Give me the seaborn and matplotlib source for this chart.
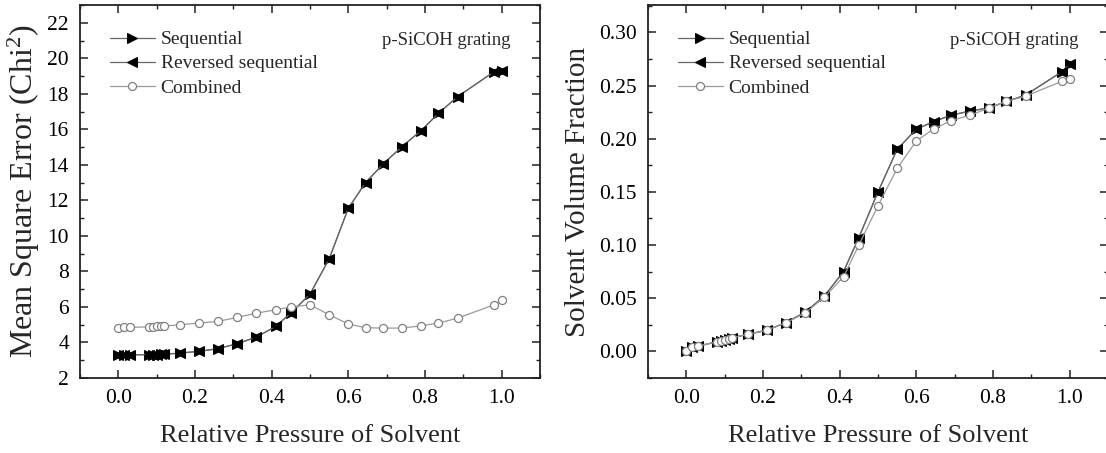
import numpy as np
import pandas as pd
import matplotlib
matplotlib.use("Agg")
import matplotlib.pyplot as plt
from matplotlib.ticker import MultipleLocator
import seaborn as sns

# ---------------- data ----------------
pressure = [0.0, 0.015, 0.03, 0.08, 0.09, 0.10, 0.11, 0.12, 0.16, 0.21, 0.26,
            0.31, 0.36, 0.41, 0.45, 0.50, 0.55, 0.60, 0.645, 0.69, 0.74, 0.79,
            0.835, 0.885, 0.98, 1.0]

mse_sequential = [3.3, 3.3, 3.3, 3.32, 3.32, 3.32, 3.33, 3.34, 3.4, 3.5, 3.65,
                  3.93, 4.3, 4.9, 5.65, 6.72, 8.71, 11.56, 13.0, 14.03, 15.03,
                  15.93, 16.9, 17.84, 19.24, 19.3]
mse_reversed = [3.3, 3.3, 3.3, 3.32, 3.32, 3.32, 3.33, 3.34, 3.4, 3.5, 3.65,
                3.93, 4.3, 4.9, 5.65, 6.72, 8.71, 11.56, 13.0, 14.03, 15.03,
                15.93, 16.9, 17.84, 19.24, 19.3]
mse_combined = [4.81, 4.85, 4.85, 4.88, 4.89, 4.9, 4.91, 4.92, 5.0, 5.09, 5.19,
                5.41, 5.65, 5.84, 6.0, 6.12, 5.56, 5.04, 4.83, 4.81, 4.81, 4.94,
                5.09, 5.37, 6.12, 6.37]

svf_sequential = [0.0, 0.004, 0.005, 0.009, 0.010, 0.011, 0.012, 0.013, 0.016,
                  0.020, 0.027, 0.037, 0.052, 0.075, 0.107, 0.150, 0.190, 0.209,
                  0.216, 0.222, 0.226, 0.229, 0.235, 0.241, 0.263, 0.270]
svf_reversed = [0.0, 0.004, 0.005, 0.009, 0.010, 0.011, 0.012, 0.013, 0.016,
                0.020, 0.027, 0.037, 0.052, 0.075, 0.107, 0.150, 0.190, 0.209,
                0.216, 0.222, 0.226, 0.229, 0.235, 0.241, 0.263, 0.270]
svf_combined = [0.0, 0.004, 0.005, 0.009, 0.010, 0.011, 0.012, 0.013, 0.016,
                0.020, 0.027, 0.036, 0.051, 0.070, 0.100, 0.137, 0.172, 0.198,
                0.209, 0.217, 0.222, 0.229, 0.235, 0.240, 0.254, 0.256]

series_names = ["Sequential", "Reversed sequential", "Combined"]
x_label = "Relative Pressure of Solvent"
left_ylabel = "Mean Square Error (Chi$^{2}$)"
right_ylabel = "Solvent Volume Fraction"
annotation = "p-SiCOH grating"

# ---------------- style ----------------
sns.set_theme(style="ticks")
plt.rcParams["font.family"] = ["Liberation Serif", "DejaVu Serif"]
plt.rcParams["mathtext.fontset"] = "custom"
plt.rcParams["mathtext.rm"] = "Liberation Serif"
plt.rcParams["mathtext.it"] = "Liberation Serif:italic"
plt.rcParams["axes.linewidth"] = 1.3

fig = plt.figure(figsize=(11.06, 4.53), dpi=100)
axL = fig.add_axes([80 / 1106, 75 / 453, 460 / 1106, 373 / 453])
axR = fig.add_axes([648 / 1106, 75 / 453, 460 / 1106, 373 / 453])

styles = {
    "Sequential": dict(marker=">", color="#666666", markerfacecolor="black",
                       markeredgecolor="black", markersize=7.5, linewidth=0.9),
    "Reversed sequential": dict(marker="<", color="#666666", markerfacecolor="black",
                                markeredgecolor="black", markersize=7.5, linewidth=0.9),
    "Combined": dict(marker="o", color="#9a9a9a", markerfacecolor="white",
                     markeredgecolor="#808080", markersize=5.8, linewidth=0.9,
                     markeredgewidth=0.9),
}


def draw(ax, seq, rev, comb):
    df = pd.DataFrame({
        "x": pressure * 3,
        "y": list(seq) + list(rev) + list(comb),
        "series": ["Sequential"] * len(pressure)
        + ["Reversed sequential"] * len(pressure)
        + ["Combined"] * len(pressure),
    })
    for name in series_names:
        sub = df[df["series"] == name]
        sns.lineplot(data=sub, x="x", y="y", ax=ax, estimator=None, sort=False,
                     label=name, **styles[name])
    ax.legend(loc="upper left", bbox_to_anchor=(0.04, 0.962), frameon=False,
              fontsize=14, handlelength=2.3, handletextpad=0.3,
              labelspacing=0.33, borderaxespad=0.2)
    ax.set_xlim(-0.1, 1.1)
    ax.xaxis.set_major_locator(MultipleLocator(0.2))
    ax.xaxis.set_minor_locator(MultipleLocator(0.1))
    ax.xaxis.set_major_formatter(matplotlib.ticker.FormatStrFormatter("%.1f"))
    ax.tick_params(which="both", direction="in", top=True, right=True,
                   colors="#222222", labelcolor="black")
    ax.tick_params(which="major", length=6, width=1.1, labelsize=15.5, pad=8)
    ax.tick_params(which="minor", length=3, width=1.0)
    ax.set_xlabel(x_label, fontsize=19, labelpad=12)
    ax.text(0.935, 0.905, annotation, transform=ax.transAxes, ha="right",
            va="center", fontsize=13.5)
    for s in ax.spines.values():
        s.set_color("#222222")


draw(axL, mse_sequential, mse_reversed, mse_combined)
axL.set_ylim(2, 23)
axL.yaxis.set_major_locator(MultipleLocator(2))
axL.yaxis.set_minor_locator(MultipleLocator(1))
axL.set_ylabel(left_ylabel, fontsize=23, labelpad=4)

draw(axR, svf_sequential, svf_reversed, svf_combined)
axR.set_ylim(-0.025, 0.3257)
axR.yaxis.set_major_locator(MultipleLocator(0.05))
axR.yaxis.set_minor_locator(MultipleLocator(0.025))
axR.yaxis.set_major_formatter(matplotlib.ticker.FormatStrFormatter("%.2f"))
axR.set_ylabel(right_ylabel, fontsize=21, labelpad=6)

fig.savefig("out.png", dpi=100)
